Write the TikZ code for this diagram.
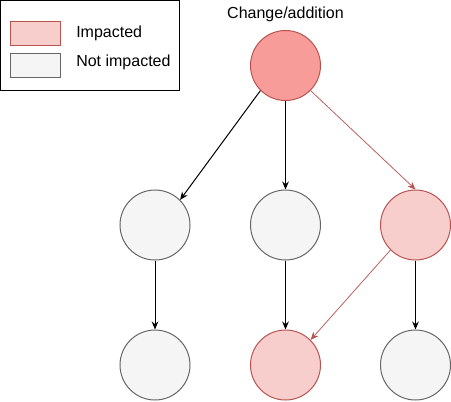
\documentclass[tikz,border=0pt]{standalone}
\usepackage{fontspec}
\setmainfont{Liberation Sans}
\usetikzlibrary{arrows.meta}
\definecolor{hitfill}{RGB}{248,206,204}
\definecolor{hitdraw}{RGB}{184,84,80}
\definecolor{srcfill}{RGB}{248,156,153}
\definecolor{nohitfill}{RGB}{245,245,245}
\definecolor{nohitdraw}{RGB}{102,102,102}
\tikzset{
  unit/.style={circle,minimum size=52.5pt,inner sep=0pt,line width=0.75pt},
  hit/.style={unit,draw=hitdraw,fill=hitfill},
  nohit/.style={unit,draw=nohitdraw,fill=nohitfill},
  dep/.style={line width=0.75pt,-{Stealth[length=6pt,width=5pt]}},
  hitdep/.style={dep,draw=hitdraw,fill=hitdraw,line width=0.5pt}
}

\begin{document}
\begin{tikzpicture}[x=0.75pt,y=0.75pt,yscale=-1,xscale=1,font=\fontsize{12}{14}\selectfont]
\useasboundingbox (0,0) rectangle (451,401);

%Legend
\draw [line width=0.75pt] (0.5,0.5) rectangle (179,90);
\draw [draw=hitdraw,fill=hitfill,line width=0.75pt] (10,21) rectangle (60,45);
\draw [draw=nohitdraw,fill=nohitfill,line width=0.75pt] (10,53) rectangle (60,77);
\node [anchor=west,inner sep=0pt] (lhit) at (76,33) {Impacted};
\node [anchor=west,inner sep=0pt] (lnohit) at (76,62) {Not impacted};

%Nodes
\node [hit,fill=srcfill] (src) at (285.5,65.5) {};
\node [inner sep=0pt] (srclbl) at (285.5,14) {Change/addition};
\node [nohit] (ma) at (155,225) {};
\node [nohit] (mb) at (285.5,225) {};
\node [hit] (mc) at (415.5,225) {};
\node [nohit] (ba) at (155,365) {};
\node [hit] (bb) at (285.5,365) {};
\node [nohit] (bc) at (415.5,365) {};

%Edges
\draw [dep] (src.south west) -- (ma.north east);
\draw [dep] (src) -- (mb);
\draw [hitdep] (src.south east) -- (mc.north);
\draw [dep] (ma) -- (ba);
\draw [dep] (mb) -- (bb);
\draw [dep] (mc) -- (bc);
\draw [hitdep] (mc.south west) -- (bb.north east);

\end{tikzpicture}
\end{document}
